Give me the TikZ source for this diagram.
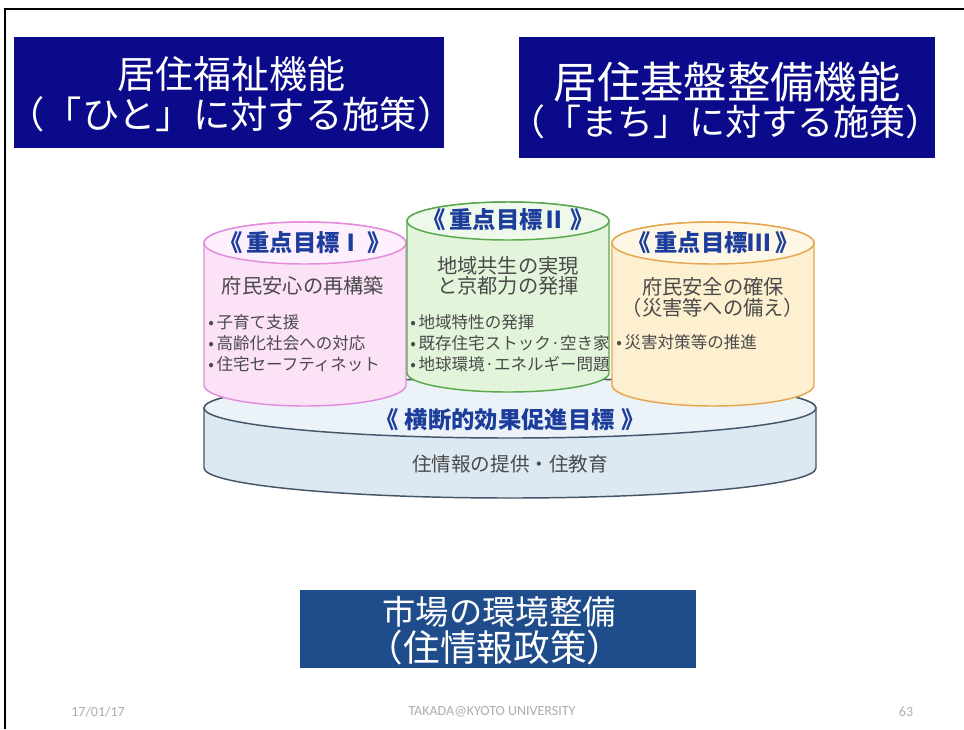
\documentclass[tikz,border=0pt]{standalone}
\usepackage{fontspec}
\setmainfont{Noto Sans CJK JP}
\newfontfamily\footfont{Carlito}
\definecolor{navy}{HTML}{0A0A8A}
\definecolor{steel}{HTML}{1F4C8A}
\definecolor{ttl}{HTML}{1C3D9C}
\definecolor{body}{HTML}{4A4A4A}
\definecolor{pinkF}{HTML}{FBE2F7}
\definecolor{pinkD}{HTML}{E48CDC}
\definecolor{greenF}{HTML}{E2F4DA}
\definecolor{greenD}{HTML}{5AA84E}
\definecolor{orF}{HTML}{FDF0D0}
\definecolor{orD}{HTML}{E6A650}
\definecolor{baseF}{HTML}{DCE9F2}
\definecolor{baseD}{HTML}{46566A}
\newcommand\mycyl[7]{%
  \path[fill=#6,draw=#7,line width=1.1pt] (#1-#2,#3) -- (#1-#2,#4)
    arc[start angle=180,end angle=360,x radius=#2,y radius=#5] -- (#1+#2,#3)
    arc[start angle=0,end angle=180,x radius=#2,y radius=#5] -- cycle;
  \path[fill=#6!55!white,draw=#7,line width=1.1pt] (#1,#3) ellipse[x radius=#2,y radius=#5];
}
\tikzset{
  hdr/.style={text=white,inner sep=0pt,anchor=center},
  cyltitle/.style={text=ttl,font=\fontsize{17.5}{19}\selectfont\bfseries,inner sep=0pt},
  sub/.style={text=body,font=\fontsize{15.2}{17}\selectfont,inner sep=0pt},
  bul/.style={text=body,font=\fontsize{12.4}{14}\selectfont,inner sep=0pt,anchor=west},
  foot/.style={text=black!32,font=\footfont\fontsize{10.5}{12}\selectfont,inner sep=0pt}
}
\begin{document}
\begin{tikzpicture}[x=0.75pt,y=0.75pt]
\useasboundingbox (0,0) rectangle (964,-729);
\fill[white] (0,0) rectangle (964,-729);
% frame
\draw[line width=1.6pt,black] (964,-9) -- (5,-9) -- (5,-729);
% header boxes
\fill[navy] (14,-37) rectangle (444,-148);
\node[hdr,font=\fontsize{28.5}{30}\selectfont] (h1a) at (231,-74) {居住福祉機能};
\node[hdr,font=\fontsize{28}{30}\selectfont] (h1b) at (231,-114) {（「ひと」に対する施策）};
\fill[navy] (519,-37) rectangle (935,-158);
\node[hdr,font=\fontsize{32.5}{34}\selectfont] (h2a) at (727,-82) {居住基盤整備機能};
\node[hdr,font=\fontsize{27}{30}\selectfont] (h2b) at (725,-122) {（「まち」に対する施策）};
\fill[steel] (300,-590) rectangle (696,-668);
\node[hdr,font=\fontsize{25}{28}\selectfont] (h3a) at (499,-612) {市場の環境整備};
\node[hdr,font=\fontsize{27.5}{30}\selectfont] (h3b) at (495,-648) {（住情報政策）};
% base cylinder
\mycyl{510}{306}{-408}{-468}{30}{baseF}{baseD}
% pink and orange cylinders
\mycyl{305}{101}{-243}{-385}{21}{pinkF}{pinkD}
\mycyl{713}{101}{-243}{-385}{21}{orF}{orD}
% green cylinder
\mycyl{508}{101}{-221}{-373}{19}{greenF}{greenD}
% texts
\node[cyltitle] (t1) at (305,-243) {《\,重点目標Ⅰ\,》};
\node[sub] (s1) at (303,-286) {府民安心の再構築};
\node[bul] (b1a) at (208,-322) {•\,子育て支援};
\node[bul] (b1b) at (208,-343) {•\,高齢化社会への対応};
\node[bul] (b1c) at (208,-364) {•\,住宅セーフティネット};
\node[cyltitle] (t2) at (508,-220) {《\,重点目標Ⅱ\,》};
\node[sub] (s2a) at (508,-266) {地域共生の実現};
\node[sub] (s2b) at (508,-286) {と京都力の発揮};
\node[bul] (b2a) at (410,-322) {•\,地域特性の発揮};
\node[bul] (b2b) at (410,-343) {•\,既存住宅ストック·空き家};
\node[bul] (b2c) at (410,-364) {•\,地球環境·エネルギー問題};
\node[cyltitle] (t3) at (713,-243) {《\,重点目標Ⅲ\,》};
\node[sub] (s3a) at (713,-287) {府民安全の確保};
\node[sub] (s3b) at (713,-308) {（災害等への備え）};
\node[bul] (b3a) at (616,-342) {•\,災害対策等の推進};
\node[cyltitle] (t4) at (510,-420) {《\;横断的効果促進目標\;》};
\node[sub,font=\fontsize{14.7}{16}\selectfont] (s4) at (510,-464) {住情報の提供・住教育};
% footer
\node[foot] (f1) at (98,-712) {17/01/17};
\node[foot] (f2) at (492,-712) {TAKADA@KYOTO UNIVERSITY};
\node[foot] (f3) at (906,-712) {63};
\end{tikzpicture}
\end{document}
